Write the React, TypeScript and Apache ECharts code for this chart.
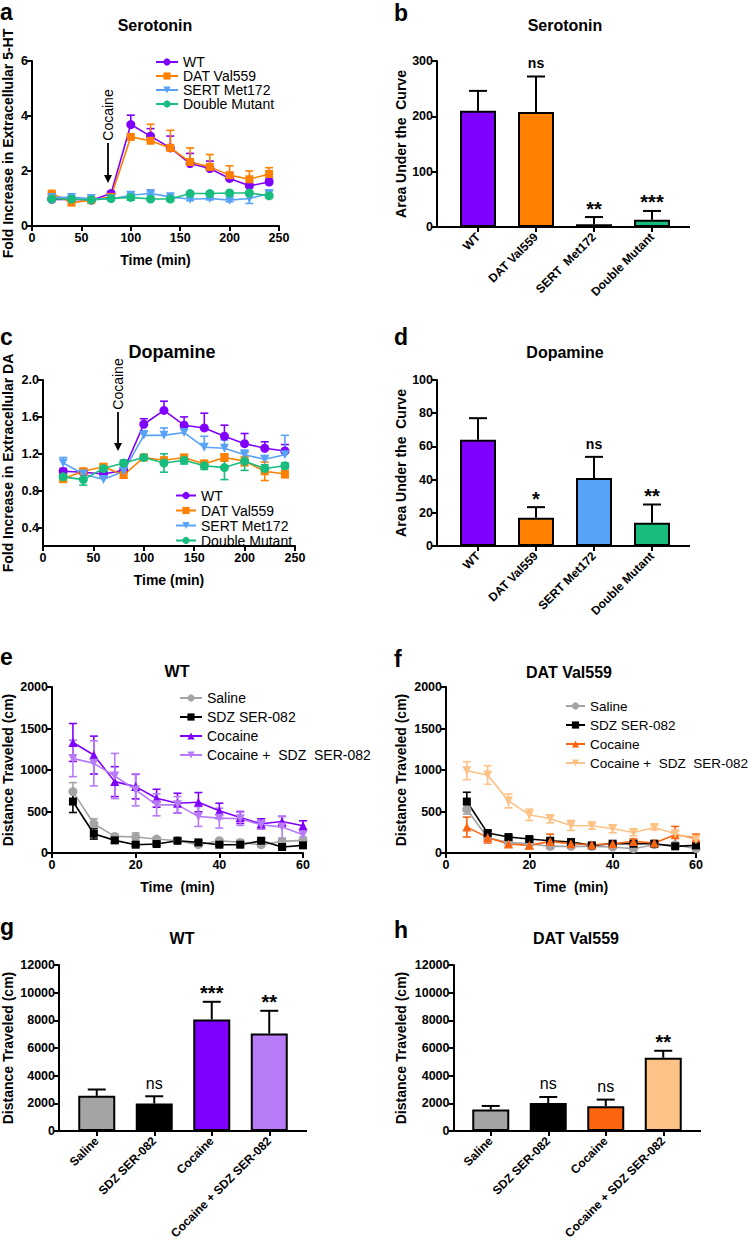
import React, { useEffect, useRef } from 'react';
import * as echarts from 'echarts';

const FONT = '"Liberation Sans", Arial, Helvetica, sans-serif';

// ---------------- data ----------------
const microTime = [20, 40, 60, 80, 100, 120, 140, 160, 180, 200, 220, 240];
const genotypes = ['WT', 'DAT Val559', 'SERT Met172', 'Double Mutant'];

// a: serotonin microdialysis
const serWT = [0.97, 0.97, 0.94, 1.18, 3.69, 3.27, 2.84, 2.27, 2.09, 1.73, 1.46, 1.6];
const serWTErr = [0.05, 0.05, 0.05, 0.08, 0.34, 0.27, 0.43, 0.37, 0.27, 0.18, 0.1, 0.1];
const serDAT = [1.18, 0.85, 0.94, 1.06, 3.24, 3.1, 2.84, 2.33, 2.15, 1.85, 1.7, 1.89];
const serDATErr = [0.05, 0.05, 0.05, 0.05, 0.1, 0.6, 0.64, 0.51, 0.45, 0.34, 0.3, 0.23];
const serSERT = [1.04, 1.04, 1.0, 0.98, 1.12, 1.18, 1.06, 0.97, 1.0, 0.94, 1.0, 1.18];
const serSERTErr = [0.06, 0.06, 0.05, 0.05, 0.06, 0.06, 0.05, 0.05, 0.05, 0.06, 0.18, 0.1];
const serDouble = [0.98, 0.98, 0.95, 1.0, 1.04, 0.98, 0.98, 1.18, 1.18, 1.2, 1.2, 1.1];
const serDoubleErr = [0.04, 0.04, 0.04, 0.04, 0.1, 0.05, 0.08, 0.04, 0.04, 0.04, 0.04, 0.08];

// c: dopamine microdialysis
const daWT = [1.01, 1.0, 0.98, 1.02, 1.52, 1.67, 1.51, 1.48, 1.39, 1.31, 1.26, 1.23];
const daWTErr = [0.03, 0.03, 0.03, 0.03, 0.06, 0.1, 0.09, 0.16, 0.12, 0.11, 0.07, 0.07];
const daDAT = [0.93, 1.01, 1.06, 0.97, 1.16, 1.13, 1.16, 1.09, 1.16, 1.12, 1.01, 0.98];
const daDATErr = [0.04, 0.03, 0.03, 0.03, 0.03, 0.03, 0.03, 0.04, 0.04, 0.05, 0.1, 0.04];
const daSERT = [1.1, 0.98, 0.92, 1.01, 1.4, 1.4, 1.43, 1.27, 1.26, 1.19, 1.14, 1.19];
const daSERTErr = [0.06, 0.03, 0.03, 0.03, 0.05, 0.08, 0.04, 0.12, 0.09, 0.05, 0.04, 0.21];
const daDouble = [0.95, 0.92, 1.04, 1.1, 1.16, 1.1, 1.13, 1.07, 1.05, 1.12, 1.04, 1.07];
const daDoubleErr = [0.03, 0.06, 0.03, 0.03, 0.03, 0.1, 0.04, 0.04, 0.13, 0.1, 0.04, 0.03];

// b, d: area under the curve
const aucCats = ['WT', 'DAT Val559', 'SERT  Met172', 'Double Mutant'];
const aucCatsD = ['WT', 'DAT Val559', 'SERT Met172', 'Double Mutant'];
const serAUC = [210, 208, 5, 13];
const serAUCErr = [36, 64, 13, 16];
const serAUCSig = ['', 'ns', '**', '***'];
const daAUC = [64, 17, 41, 14];
const daAUCErr = [13, 6.4, 12.7, 11];
const daAUCSig = ['', '*', 'ns', '**'];

// e, f: locomotion time course
const locoTime = [5, 10, 15, 20, 25, 30, 35, 40, 45, 50, 55, 60];
const treatments = ['Saline', 'SDZ SER-082', 'Cocaine', 'Cocaine +  SDZ  SER-082'];

const wtSaline = [740, 352, 200, 192, 168, 148, 100, 148, 128, 100, 140, 152];
const wtSalineErr = [108, 60, 30, 50, 25, 25, 20, 20, 30, 20, 25, 40];
const wtSDZ = [620, 232, 152, 100, 108, 148, 128, 100, 100, 148, 72, 92];
const wtSDZErr = [132, 64, 30, 20, 20, 20, 20, 20, 20, 20, 20, 20];
const wtCoc = [1332, 1180, 860, 800, 660, 600, 612, 508, 428, 352, 380, 328];
const wtCocErr = [228, 228, 180, 148, 108, 120, 116, 92, 72, 60, 60, 60];
const wtCocSDZ = [1140, 1080, 928, 760, 580, 580, 440, 420, 412, 340, 312, 220];
const wtCocSDZErr = [220, 272, 272, 192, 132, 100, 120, 120, 80, 50, 132, 60];

const datSaline = [528, 180, 128, 112, 80, 80, 80, 72, 52, 100, 100, 52];
const datSalineErr = [60, 30, 20, 20, 15, 15, 15, 15, 15, 20, 20, 15];
const datSDZ = [620, 240, 192, 168, 148, 132, 92, 112, 112, 112, 80, 92];
const datSDZErr = [112, 32, 20, 20, 20, 20, 15, 15, 15, 15, 15, 15];
const datCoc = [312, 188, 108, 92, 140, 112, 100, 112, 140, 120, 220, 180];
const datCocErr = [120, 68, 30, 40, 88, 30, 20, 20, 30, 30, 100, 48];
const datCocSDZ = [992, 940, 628, 460, 412, 332, 328, 292, 248, 308, 232, 160];
const datCocSDZErr = [108, 112, 84, 68, 48, 60, 40, 48, 40, 30, 30, 50];

// g, h: total distance
const totalCats = ['Saline', 'SDZ SER-082', 'Cocaine', 'Cocaine + SDZ SER-082'];
const wtTotal = [2540, 1980, 8060, 7050];
const wtTotalErr = [460, 530, 1280, 1640];
const wtTotalSig = ['', 'ns', '***', '**'];
const datTotal = [1550, 2030, 1790, 5290];
const datTotalErr = [260, 430, 480, 510];
const datTotalSig = ['', 'ns', 'ns', '**'];

// ---------------- palette ----------------
const PURPLE = '#8000ff';
const ORANGE = '#ff8000';
const BLUE = '#58a2f8';
const GREEN = '#18bd7e';
const GRAY = '#a4a4a6';
const BLACK = '#000000';
const LILAC = '#b77bf7';
const RED_ORANGE = '#fb6510';
const PEACH = '#fdc285';

const genoColors = [PURPLE, ORANGE, BLUE, GREEN];
const wtTreatColors = [GRAY, BLACK, PURPLE, LILAC];
const datTreatColors = [GRAY, BLACK, RED_ORANGE, PEACH];

// ---------------- helpers ----------------
const axisLine = { show: true, lineStyle: { color: '#000', width: 2 } };
const axisTick = { show: true, length: 5, lineStyle: { color: '#000', width: 2 } };
const tickLabel = {
  color: '#000',
  fontWeight: 'bold' as const,
  fontSize: 12.5,
  fontFamily: FONT,
  margin: 5,
  formatter: (v: any) => String(v),
};
const axisName = { color: '#000', fontWeight: 'bold' as const, fontSize: 14, fontFamily: FONT };

function lineSeries(name: string, idx: number, xs: number[], ys: number[], color: string, symbol: string, rotate = 0) {
  return {
    type: 'line',
    name,
    xAxisIndex: idx,
    yAxisIndex: idx,
    data: xs.map((x, i) => [x, ys[i]]),
    symbol,
    symbolSize: symbol === 'rect' ? 8 : 9,
    symbolRotate: rotate,
    lineStyle: { color, width: 1.6 },
    itemStyle: { color },
    z: 3,
  };
}

function errSeries(idx: number, xs: number[], ys: number[], errs: number[], color: string, both: boolean) {
  return {
    type: 'custom',
    xAxisIndex: idx,
    yAxisIndex: idx,
    data: xs.map((x, i) => [x, ys[i], errs[i]]),
    encode: { x: 0, y: 1 },
    z: 2,
    silent: true,
    renderItem: (_p: any, api: any) => {
      const x = api.value(0);
      const y = api.value(1);
      const e = api.value(2);
      const top = api.coord([x, y + e]);
      const bot = api.coord([x, both ? y - e : y]);
      const st = { stroke: color, lineWidth: 1.6 };
      const children: any[] = [
        { type: 'line', shape: { x1: top[0], y1: top[1], x2: bot[0], y2: bot[1] }, style: st },
        { type: 'line', shape: { x1: top[0] - 4, y1: top[1], x2: top[0] + 4, y2: top[1] }, style: st },
      ];
      if (both) {
        children.push({ type: 'line', shape: { x1: bot[0] - 4, y1: bot[1], x2: bot[0] + 4, y2: bot[1] }, style: st });
      }
      return { type: 'group', children };
    },
  };
}

function barSeries(idx: number, vals: number[], colors: string[], width: number) {
  return {
    type: 'bar',
    xAxisIndex: idx,
    yAxisIndex: idx,
    barWidth: width,
    data: vals.map((v, i) => ({ value: v, itemStyle: { color: colors[i] } })),
    itemStyle: { borderColor: '#000', borderWidth: 2 },
    z: 2,
  };
}

function barErrSeries(idx: number, vals: number[], errs: number[], sig: string[], nsBold: boolean) {
  return {
    type: 'custom',
    xAxisIndex: idx,
    yAxisIndex: idx,
    data: vals.map((v, i) => [i, v, errs[i]]),
    encode: { x: 0, y: 1 },
    z: 1,
    silent: true,
    renderItem: (p: any, api: any) => {
      const i = api.value(0);
      const v = api.value(1);
      const e = api.value(2);
      const base = api.coord([i, v]);
      const top = api.coord([i, v + e]);
      const st = { stroke: '#000', lineWidth: 2 };
      const s = sig[p.dataIndex];
      const children: any[] = [
        { type: 'line', shape: { x1: base[0], y1: base[1], x2: top[0], y2: top[1] }, style: st },
        { type: 'line', shape: { x1: top[0] - 9, y1: top[1], x2: top[0] + 9, y2: top[1] }, style: st },
      ];
      if (s) {
        const isNs = s === 'ns';
        children.push({
          type: 'text',
          z2: 10,
          style: {
            text: s,
            x: top[0],
            y: isNs ? top[1] - 13 : top[1] - 8.5,
            align: 'center',
            verticalAlign: 'middle',
            fill: '#000',
            fontFamily: FONT,
            fontSize: isNs ? (nsBold ? 14 : 16) : 20,
            fontWeight: isNs && !nsBold ? 'normal' : 'bold',
          },
        });
      }
      return { type: 'group', children };
    },
  };
}

function valueX(idx: number, max: number, interval: number, name: string) {
  return {
    type: 'value',
    gridIndex: idx,
    min: 0,
    max,
    interval,
    axisLine,
    axisTick,
    axisLabel: tickLabel,
    splitLine: { show: false },
    name,
    nameLocation: 'middle',
    nameGap: 27,
    nameTextStyle: axisName,
  };
}

function catX(idx: number, cats: string[]) {
  return {
    type: 'category',
    gridIndex: idx,
    data: cats,
    axisLine,
    axisTick: { ...axisTick, alignWithLabel: true },
    axisLabel: { ...tickLabel, formatter: undefined, fontSize: 12, rotate: 45, interval: 0, margin: 8 },
    splitLine: { show: false },
  };
}

function valueY(idx: number, min: number, max: number, interval: number, name: string, nameGap: number, offset = 0, extra: any = {}) {
  return {
    type: 'value',
    gridIndex: idx,
    min,
    max,
    interval,
    offset,
    axisLine,
    axisTick,
    axisLabel: { ...tickLabel, margin: 4 },
    splitLine: { show: false },
    name,
    nameLocation: 'middle',
    nameRotate: 90,
    nameGap,
    nameTextStyle: axisName,
    ...extra,
  };
}

function legend(names: string[], left: number, top: number, itemWidth: number, lineHeight: number, gap: number, fontSize = 14) {
  return {
    orient: 'vertical',
    left,
    top,
    data: names,
    itemWidth,
    itemHeight: 9,
    itemGap: gap,
    selectedMode: false,
    formatter: (n: string) => n.split('|')[0],
    textStyle: { color: '#000', fontSize, fontFamily: FONT, lineHeight, padding: [0, 0, 0, 0] },
    padding: 0,
  };
}

function title(text: string, cx: number, top: number, size = 16) {
  return {
    text,
    left: cx,
    top,
    textAlign: 'center',
    padding: 0,
    textStyle: { color: '#000', fontWeight: 'bold', fontSize: size, fontFamily: FONT },
  };
}

function letter(t: string, x: number, y: number) {
  return {
    type: 'text',
    x,
    y,
    style: { text: t, fill: '#000', font: `bold 23px ${FONT}`, verticalAlign: 'middle' },
  };
}

function hline(x1: number, x2: number, y: number) {
  return { type: 'line', shape: { x1, y1: y, x2, y2: y }, style: { stroke: '#000', lineWidth: 2 } };
}

function cocaine(x: number, textY: number, y1: number, y2: number) {
  return [
    {
      type: 'text',
      x,
      y: textY,
      rotation: Math.PI / 2,
      style: { text: 'Cocaine', fill: '#000', font: `14px ${FONT}`, align: 'center', verticalAlign: 'middle' },
    },
    { type: 'line', shape: { x1: x, y1, x2: x, y2: y2 - 6 }, style: { stroke: '#000', lineWidth: 1.8 } },
    { type: 'polygon', shape: { points: [[x - 4, y2 - 8], [x + 4, y2 - 8], [x, y2]] }, style: { fill: '#000' } },
  ];
}

export default function App() {
  const ref = useRef<HTMLDivElement>(null);

  useEffect(() => {
    if (!ref.current) return;
    const chart = echarts.init(ref.current, undefined, { renderer: 'svg' });

    const nA = genotypes.map((g) => g + '|a');
    const nC = genotypes.map((g) => g + '|c');
    const nE = treatments.map((g) => g + '|e');
    const nF = treatments.map((g) => g + '|f');
    const shapes = ['circle', 'rect', 'triangle', 'circle'];
    const rots = [0, 0, 180, 0];
    const tShapes = ['circle', 'rect', 'triangle', 'triangle'];
    const tRots = [0, 0, 0, 180];

    const serY = [serWT, serDAT, serSERT, serDouble];
    const serE = [serWTErr, serDATErr, serSERTErr, serDoubleErr];
    const serBoth = [false, false, true, true];
    const daY = [daWT, daDAT, daSERT, daDouble];
    const daE = [daWTErr, daDATErr, daSERTErr, daDoubleErr];
    const daBoth = [false, true, false, true];
    const wtY = [wtSaline, wtSDZ, wtCoc, wtCocSDZ];
    const wtE = [wtSalineErr, wtSDZErr, wtCocErr, wtCocSDZErr];
    const datY = [datSaline, datSDZ, datCoc, datCocSDZ];
    const datE = [datSalineErr, datSDZErr, datCocErr, datCocSDZErr];

    const series: any[] = [];
    [0, 1, 2, 3].forEach((k) => {
      series.push(errSeries(0, microTime, serY[k], serE[k], genoColors[k], serBoth[k]));
      series.push(lineSeries(nA[k], 0, microTime, serY[k], genoColors[k], shapes[k], rots[k]));
    });
    [0, 1, 2, 3].forEach((k) => {
      series.push(errSeries(2, microTime, daY[k], daE[k], genoColors[k], daBoth[k]));
      series.push(lineSeries(nC[k], 2, microTime, daY[k], genoColors[k], shapes[k], rots[k]));
    });
    [0, 1, 2, 3].forEach((k) => {
      series.push(errSeries(4, locoTime, wtY[k], wtE[k], wtTreatColors[k], true));
      series.push(lineSeries(nE[k], 4, locoTime, wtY[k], wtTreatColors[k], tShapes[k], tRots[k]));
    });
    [0, 1, 2, 3].forEach((k) => {
      series.push(errSeries(5, locoTime, datY[k], datE[k], datTreatColors[k], true));
      series.push(lineSeries(nF[k], 5, locoTime, datY[k], datTreatColors[k], tShapes[k], tRots[k]));
    });
    series.push(barErrSeries(1, serAUC, serAUCErr, serAUCSig, true));
    series.push(barSeries(1, serAUC, genoColors, 36));
    series.push(barErrSeries(3, daAUC, daAUCErr, daAUCSig, true));
    series.push(barSeries(3, daAUC, genoColors, 36));
    series.push(barErrSeries(6, wtTotal, wtTotalErr, wtTotalSig, false));
    series.push(barSeries(6, wtTotal, wtTreatColors, 37));
    series.push(barErrSeries(7, datTotal, datTotalErr, datTotalSig, false));
    series.push(barSeries(7, datTotal, datTreatColors, 37));

    const option: any = {
      animation: false,
      backgroundColor: '#ffffff',
      textStyle: { fontFamily: FONT },
      title: [
        title('Serotonin', 155, 17),
        title('Serotonin', 565, 17),
        title('Dopamine', 172, 343, 18),
        title('Dopamine', 565, 344),
        title('WT', 177, 663),
        title('DAT Val559', 569, 664),
        title('WT', 182, 930),
        title('DAT Val559', 576, 930),
      ],
      grid: [
        { left: 31, top: 61, width: 248, height: 165 },
        { left: 449, top: 61, width: 232, height: 166 },
        { left: 42, top: 380, width: 253, height: 166 },
        { left: 449, top: 380, width: 232, height: 166 },
        { left: 52, top: 687, width: 251, height: 166 },
        { left: 446, top: 687, width: 250, height: 166 },
        { left: 68, top: 965, width: 230, height: 166 },
        { left: 462, top: 965, width: 230, height: 166 },
      ],
      xAxis: [
        valueX(0, 250, 50, 'Time (min)'),
        catX(1, aucCats),
        valueX(2, 250, 50, 'Time (min)'),
        catX(3, aucCatsD),
        valueX(4, 60, 20, 'Time  (min)'),
        valueX(5, 60, 20, 'Time  (min)'),
        catX(6, totalCats),
        catX(7, totalCats),
      ],
      yAxis: [
        valueY(0, 0, 6, 2, 'Fold Increase in Extracellular 5-HT', 17),
        valueY(1, 0, 300, 100, 'Area Under the  Curve', 29, 12),
        valueY(2, 0.2, 2.0, 0.2, 'Fold Increase in Extracellular DA', 28, 0, {
          axisLabel: { ...tickLabel, margin: 4, customValues: [0.4, 0.8, 1.2, 1.6, 2.0], formatter: (v: number) => v.toFixed(1) },
          axisTick: { ...axisTick, customValues: [0.4, 0.8, 1.2, 1.6, 2.0] },
        }),
        valueY(3, 0, 100, 20, 'Area Under the  Curve', 29, 12),
        valueY(4, 0, 2000, 500, 'Distance Traveled (cm)', 37),
        valueY(5, 0, 2000, 500, 'Distance Traveled (cm)', 38),
        valueY(6, 0, 12000, 2000, 'Distance Traveled (cm)', 44, 9),
        valueY(7, 0, 12000, 2000, 'Distance Traveled (cm)', 46, 8.5),
      ],
      legend: [
        legend(nA, 155, 55, 22, 14, 0),
        legend(nC, 175, 488, 20, 15, 0),
        legend(nE, 179, 691, 22, 14, 5),
        legend(nF, 565, 699, 19, 14, 5, 13.5),
      ],
      graphic: [
        letter('a', 0, 12),
        letter('b', 394, 13),
        letter('c', 0, 337),
        letter('d', 394, 337),
        letter('e', 0, 657),
        letter('f', 394, 659),
        letter('g', 0, 927),
        letter('h', 394, 930),
        hline(436, 450, 227),
        hline(680, 690, 227),
        hline(436, 450, 546),
        hline(680, 690, 546),
        hline(58, 69, 1131),
        hline(297, 307, 1131),
        hline(452.5, 463, 1131),
        hline(691, 701, 1131),
        ...cocaine(108, 115, 143, 183),
        ...cocaine(118, 384, 412, 451),
      ],
      series,
    };

    chart.setOption(option);
    return () => chart.dispose();
  }, []);

  return (
    <div
      ref={ref}
      style={{ position: 'absolute', left: 0, top: 0, width: 752, height: 1247, background: '#fff' }}
    />
  );
}
